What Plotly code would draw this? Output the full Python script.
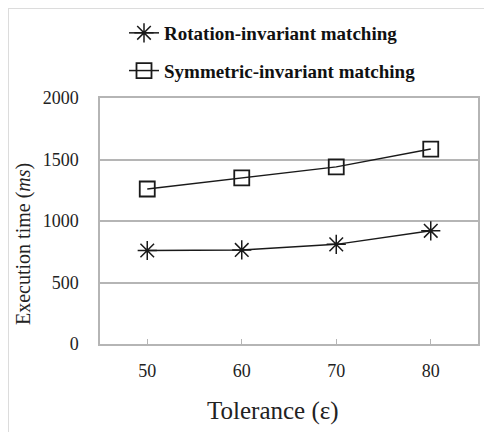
import plotly.graph_objects as go

tolerance = [50, 60, 70, 80]
rotation_invariant = [760, 765, 810, 920]
symmetric_invariant = [1260, 1350, 1440, 1585]
series_names = ["Rotation-invariant matching", "Symmetric-invariant matching"]
y_ticks = [0, 500, 1000, 1500, 2000]

FONT = "Liberation Serif"

fig = go.Figure()
fig.add_trace(go.Scatter(
    x=tolerance, y=rotation_invariant, mode="lines+markers", name=series_names[0],
    line=dict(color="#1a1a1a", width=1.5),
    marker=dict(symbol="asterisk-open", size=16, color="#1a1a1a", line=dict(width=1.5, color="#1a1a1a")),
    legendgroup="a",
))
fig.add_trace(go.Scatter(
    x=tolerance, y=symmetric_invariant, mode="lines+markers", name=series_names[1],
    line=dict(color="#1a1a1a", width=1.5),
    marker=dict(symbol="square-open", size=15, color="#1a1a1a", line=dict(width=1.8, color="#1a1a1a")),
    legendgroup="b",
))

# The page body adds an 8px offset; all targets below are in screen pixels.
OFF = 8
W, H = 492, 432
ml, mr, mt, mb = 100 - OFF, 22, 98 - OFF, 96
pw, ph = W - ml - mr, H - mt - mb

def px_x(s):
    return (s - OFF - ml) / pw

def px_y(s):
    return (H - mb - (s - OFF)) / ph

fig.update_layout(
    width=W, height=H,
    margin=dict(l=ml, r=mr, t=mt, b=mb, pad=0, autoexpand=False),
    paper_bgcolor="white", plot_bgcolor="white",
    font=dict(family=FONT, size=18, color="#222"),
    showlegend=True,
    legend=dict(
        x=px_x(124), y=px_y(14), xanchor="left", yanchor="top",
        font=dict(family=FONT, size=19, color="#111", weight="bold"),
        bgcolor="rgba(0,0,0,0)", tracegroupgap=10, traceorder="grouped",
        itemwidth=30,
    ),
    xaxis=dict(
        range=[45, 85], tickvals=tolerance, ticktext=[str(t) for t in tolerance],
        showgrid=False, zeroline=False,
        showline=True, linecolor="#b5b5b5", linewidth=1.5, mirror=True,
        ticks="inside", ticklen=5, tickcolor="#b5b5b5",
        tickfont=dict(family=FONT, size=18, color="#222"),
        ticklabelstandoff=10,
    ),
    yaxis=dict(
        range=[0, 2000], tickvals=y_ticks,
        showgrid=True, gridcolor="#b5b5b5", gridwidth=1.5, zeroline=False,
        showline=True, linecolor="#b5b5b5", linewidth=1.5, mirror=True,
        ticks="", tickfont=dict(family=FONT, size=18, color="#222"),
        ticklabelstandoff=16,
    ),
    annotations=[
        dict(text="Tolerance (ε)", x=px_x(273), y=px_y(411), xref="paper", yref="paper",
             showarrow=False, font=dict(family=FONT, size=25, color="#222"),
             xanchor="center", yanchor="middle"),
        dict(text="Execution time (<i>ms</i>)", x=px_x(23), y=px_y(244), xref="paper", yref="paper",
             showarrow=False, textangle=-90, font=dict(family=FONT, size=20, color="#222"),
             xanchor="center", yanchor="middle"),
    ],
    shapes=[
        dict(type="line", xref="paper", yref="paper", x0=px_x(OFF), x1=px_x(W + OFF + 5),
             y0=px_y(OFF), y1=px_y(OFF), line=dict(color="#dcdcdc", width=2)),
        dict(type="line", xref="paper", yref="paper", x0=px_x(OFF), x1=px_x(OFF),
             y0=px_y(OFF), y1=px_y(H + OFF + 5), line=dict(color="#dcdcdc", width=2)),
    ],
)

fig.write_html("out.html")
